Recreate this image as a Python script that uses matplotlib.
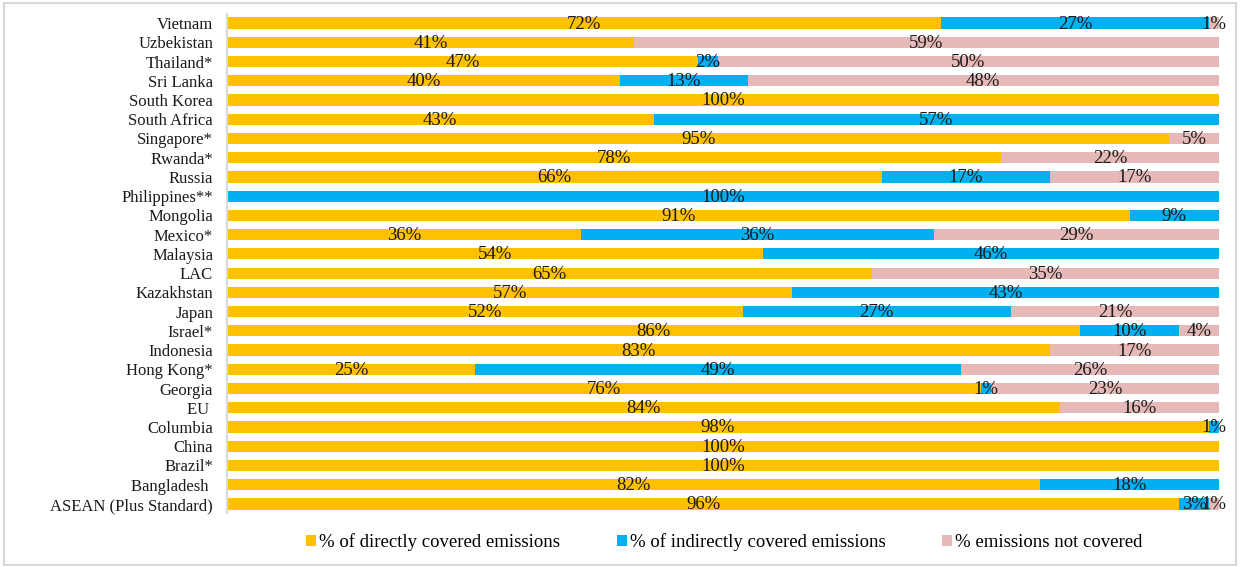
import matplotlib
matplotlib.use("Agg")
import matplotlib.pyplot as plt
import numpy as np

plt.rcParams['font.family'] = ['Liberation Serif', 'DejaVu Serif']

countries = ["Vietnam", "Uzbekistan", "Thailand*", "Sri Lanka", "South Korea", "South Africa",
             "Singapore*", "Rwanda*", "Russia", "Philippines**", "Mongolia", "Mexico*",
             "Malaysia", "LAC", "Kazakhstan", "Japan", "Israel*", "Indonesia", "Hong Kong*",
             "Georgia", "EU ", "Columbia", "China", "Brazil*", "Bangladesh ",
             "ASEAN (Plus Standard)"]
direct = [72, 41, 47, 40, 100, 43, 95, 78, 66, 0, 91, 36, 54, 65, 57, 52, 86, 83, 25, 76, 84, 98, 100, 100, 82, 96]
indirect = [27, 0, 2, 13, 0, 57, 0, 0, 17, 100, 9, 36, 46, 0, 43, 27, 10, 0, 49, 1, 0, 1, 0, 0, 18, 3]
not_covered = [1, 59, 50, 48, 0, 0, 5, 22, 17, 0, 0, 29, 0, 35, 0, 21, 4, 17, 26, 23, 16, 0, 0, 0, 0, 1]

series = [
    ("% of directly covered emissions", direct, "#FFC000"),
    ("% of indirectly covered emissions", indirect, "#00B0F0"),
    ("% emissions not covered", not_covered, "#E6B9B8"),
]

fig = plt.figure(figsize=(12.4, 5.67), dpi=100)
ax = fig.add_axes([227 / 1240, 1 - 513 / 567, (1219 - 227) / 1240, (513 - 14) / 567])

n = len(countries)
y = np.arange(n)[::-1]
totals = np.array(direct) + np.array(indirect) + np.array(not_covered)
left = np.zeros(n)
for label, vals, color in series:
    vals = np.array(vals, dtype=float)
    share = vals / totals
    ax.barh(y, share, left=left, height=0.58, color=color, label=label, edgecolor='none')
    for yi, l, s, v in zip(y, left, share, vals):
        if v > 0:
            ax.text(l + s / 2, yi - 0.05, f"{int(v)}%", ha='center', va='center',
                    fontsize=13.5, color='#1a1a1a')
    left += share

ax.set_xlim(0, 1)
ax.set_ylim(-0.47, n - 1 + 0.47)
ax.set_yticks(y)
ax.set_yticklabels(countries, fontsize=12, color='#1a1a1a')
ax.tick_params(axis='y', length=0, pad=10)
ax.set_xticks([])
for side in ['top', 'right', 'bottom']:
    ax.spines[side].set_visible(False)
ax.spines['left'].set_color('#d9d9d9')
ax.spines['left'].set_linewidth(1.5)

handles, labels = ax.get_legend_handles_labels()
fig.legend(handles, labels, loc='center', bbox_to_anchor=(0.584, 1 - 542 / 567), ncol=3,
           frameon=False, fontsize=13.5, handlelength=0.55, handleheight=0.55,
           handletextpad=0.15, columnspacing=3.0)

border = plt.Rectangle((0.003, 0.003), 0.994, 0.992, transform=fig.transFigure,
                       fill=False, edgecolor='#d9d9d9', linewidth=1.5)
fig.patches.append(border)

fig.savefig("out.png", dpi=100)
